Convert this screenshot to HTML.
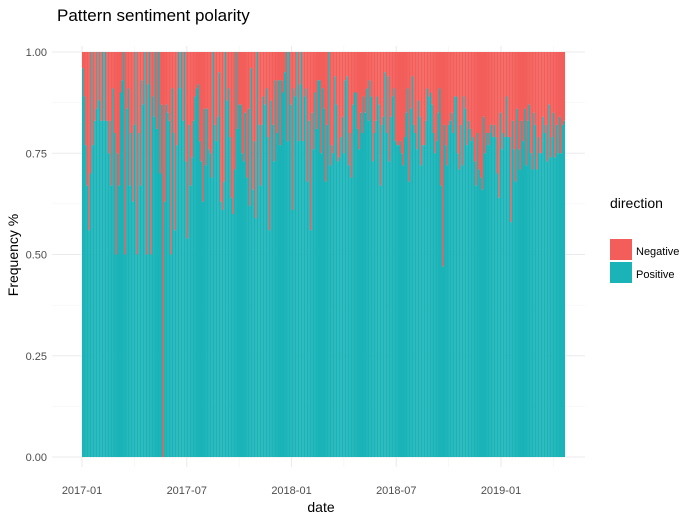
<!DOCTYPE html>
<html><head><meta charset="utf-8"><style>
body{margin:0;background:#fff;font-family:"Liberation Sans",sans-serif}
svg text{font-family:"Liberation Sans",sans-serif}
</style></head><body>
<svg id="c" width="696" height="518" xmlns="http://www.w3.org/2000/svg">
<text x="57" y="21" font-size="17" fill="#000">Pattern sentiment polarity</text>
<g id="grid"></g><g id="bars"></g><g id="axes"></g>
<text transform="translate(18,255) rotate(-90)" text-anchor="middle" font-size="14">Frequency %</text>
<text x="321" y="512" text-anchor="middle" font-size="14">date</text>
<g>
<text x="610" y="208" font-size="14">direction</text>
<rect x="610" y="239" width="22" height="21" fill="#F35E5A"/>
<text x="636" y="255" font-size="11">Negative</text>
<rect x="610" y="262" width="22" height="21" fill="#1AB4B8"/>
<text x="636" y="278" font-size="11">Positive</text>
</g>
</svg>
<script>
const positive=[.96,.89,.77,.67,.56,.70,1,.77,.83,.86,1,.88,.83,1,.83,1,.83,.75,.83,.67,.91,.80,.50,.75,.67,.90,.93,1,.50,.86,.91,.67,.80,.63,.82,1,.50,.80,.67,.93,.87,1,.50,.92,1,.50,.89,.84,1,.81,1,.70,.87,0,.63,.87,.85,.83,.50,.91,.80,.56,.77,1,.91,1,.83,1,.73,.54,.82,.67,
.74,.83,.89,.91,.92,.78,.73,.63,.86,.72,.86,.76,.75,.69,1,.82,.78,.84,.95,.63,.61,.68,1,.88,.91,.79,.64,.60,.71,1,.81,.87,.87,.75,.73,.85,.69,.86,.62,.96,.66,.78,.59,1,.82,.67,.82,.89,.87,.91,.79,.56,.88,.82,.73,.93,.80,.93,.77,.93,.90,.95,1,.78,1,.87,.61,.91,.89,1,.78,.92,1,.78,.89,.91,.68,.83,.56,.85,.76,.90,.81,.93,.93,.75,.91,.86,.68,
.82,1,.72,.77,.75,.94,.87,.73,.74,.79,.84,.75,.93,.94,.72,.80,.69,.87,.90,.90,.81,.76,.85,.80,.89,.85,.91,.83,.93,.89,.73,.80,.83,.89,.87,.67,.82,.84,.95,.80,.94,.73,.84,.89,.91,.78,.77,.77,.78,.75,.72,.79,.85,.91,.68,.86,.94,.82,.80,.76,.88,.84,.72,.77,.77,.83,.91,.89,.90,.87,.80,.75,.78,.85,.91,.67,.47,.82,.77,.72,
.82,.83,.85,.80,.89,.89,.75,.71,.82,.72,.89,.86,.77,.83,.81,.78,.79,.73,.67,.80,.71,.69,.66,.84,.75,.80,.77,.80,.82,.79,.82,.79,.70,.64,.85,.76,.80,.79,.89,.79,.79,.58,.83,.76,.68,.86,.76,.71,.83,.78,.86,.72,.83,.87,.75,.71,.85,.82,.71,.79,.75,.75,.84,.80,.82,.73,.87,.74,.79,.85,.74,.82,.75,.84,.75,.82,.83];
const yTicks=[0,0.25,0.5,0.75,1];
const yTickLabels=["0.00","0.25","0.50","0.75","1.00"];
const xTickLabels=["2017-01","2017-07","2018-01","2018-07","2019-01"];
const xTickMonths=[0,6,12,18,24];
const NS="http://www.w3.org/2000/svg";
const L=52,R=585,T=52,B=457,X0=82,X1=565;
const y=v=>B-(B-T)*v;
const xm=m=>X0+m*(501-X0)/24;
const xb=i=>X0+(X1-X0)*i/positive.length;
function mk(tag,a,p){const e=document.createElementNS(NS,tag);for(const k in a)e.setAttribute(k,a[k]);p.appendChild(e);return e;}
const grid=document.getElementById('grid'),bars=document.getElementById('bars'),axes=document.getElementById('axes');
for(let k=0;k<4;k++){const l=mk('line',{x1:L,x2:R,y1:y(k*.25+.125),y2:y(k*.25+.125),stroke:'#f2f2f2','stroke-width':0.6},grid);
}
for(let m=-3;m<=27;m+=6){const xx=xm(m);if(xx<L||xx>R)continue;const l=mk('line',{x1:xx,x2:xx,y1:T-6,y2:B+10,stroke:'#f2f2f2','stroke-width':0.6},grid);
}
yTicks.forEach((v,i)=>{const l=mk('line',{x1:L,x2:R,y1:y(v),y2:y(v),stroke:'#ebebeb','stroke-width':1.1},grid);

const t=mk('text',{x:47,y:y(v)+4,'text-anchor':'end','font-size':11,fill:'#4d4d4d'},axes);t.textContent=yTickLabels[i];
});
xTickMonths.forEach((m,i)=>{const xx=xm(m);const l=mk('line',{x1:xx,x2:xx,y1:T-6,y2:B+10,stroke:'#ebebeb','stroke-width':1.1},grid);

const t=mk('text',{x:xx,y:494,'text-anchor':'middle','font-size':11,fill:'#4d4d4d'},axes);t.textContent=xTickLabels[i];
});
const w=(X1-X0)/positive.length;
positive.forEach((v,i)=>{const x0=xb(i);
const n=mk('rect',{x:x0,y:y(1),width:w+0.05,height:y(v)-y(1),fill:'#F35E5A'},bars);

const p=mk('rect',{x:x0,y:y(v),width:w+0.05,height:B-y(v),fill:'#1AB4B8'},bars);
});
</script>
</body></html>
